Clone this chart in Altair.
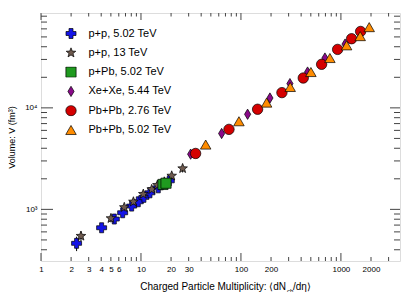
import altair as alt
import pandas as pd

FONT = "Liberation Sans"
W, H = 359, 248

STAR = ("M0,-1L0.25,-0.34L0.95,-0.31L0.4,0.13L0.59,0.81L0,0.42"
        "L-0.59,0.81L-0.4,0.13L-0.95,-0.31L-0.25,-0.34Z")
DIAMOND = "M0,-1L0.6,0L0,1L-0.6,0Z"

series = ["p+p, 5.02 TeV", "p+p, 13 TeV", "p+Pb, 5.02 TeV",
          "Xe+Xe, 5.44 TeV", "Pb+Pb, 2.76 TeV", "Pb+Pb, 5.02 TeV"]
colors = ["#1414e6", "#6e5a4e", "#1f9a1f", "#8a0a8a", "#d40000", "#ff8c00"]
shapes = ["cross", STAR, "square", DIAMOND, "circle", "triangle-up"]
sizes = [100, 110, 50, 100, 50, 55]

pp502_x = [2.27, 4.04, 5.41, 6.56, 8.07, 9.4, 10.7, 12.3, 14.9, 19.2]
pp502_v = [463, 659, 803, 926, 1077, 1188, 1313, 1456, 1630, 1911]
pp502_e = [75, 60, 70, 75, 80, 85, 90, 100, 110, 120]

pp13_x = [2.51, 5.01, 6.81, 8.4, 10.55, 12.8, 14.6, 17.1, 20.3, 26.1]
pp13_v = [546, 815, 1047, 1188, 1414, 1574, 1734, 1867, 2139, 2530]
pp13_e = [60, 70, 80, 90, 100, 110, 120, 130, 150, 220]

ppb_x = [16.6, 17.8]
ppb_v = [1760, 1810]

xexe_x = [31.4, 64.1, 116.6, 195, 309, 464, 692, 1100]
xexe_v = [3500, 5590, 8650, 12500, 17330, 22540, 30970, 42500]

pb276_x = [35.2, 75.9, 146.8, 257, 420, 641, 927, 1279, 1574]
pb276_v = [3555, 6140, 9690, 14130, 19680, 26850, 37660, 48000, 56600]

pb502_x = [44.4, 95.5, 180.6, 311, 501, 776, 1140, 1560, 1919]
pb502_v = [4350, 7380, 11270, 16060, 22540, 30970, 41300, 50900, 62400]

x_labels = [1, 2, 3, 4, 5, 6, 10, 20, 30, 100, 200, 1000, 2000]
x_major = [1, 10, 100, 1000]
x_minor = [2, 3, 4, 5, 6, 7, 8, 9, 20, 30, 40, 50, 60, 70, 80, 90,
           200, 300, 400, 500, 600, 700, 800, 900, 2000, 3000]
y_major = [1000, 10000]
y_minor = [400, 500, 600, 700, 800, 900, 2000, 3000, 4000, 5000, 6000,
           7000, 8000, 9000, 20000, 30000, 40000, 50000, 60000, 70000, 80000]

rows = []
for name, xx, vv in [(series[0], pp502_x, pp502_v), (series[1], pp13_x, pp13_v),
                     (series[2], ppb_x, ppb_v), (series[3], xexe_x, xexe_v),
                     (series[4], pb276_x, pb276_v), (series[5], pb502_x, pb502_v)]:
    for a, b in zip(xx, vv):
        rows.append({"series": name, "mult": a, "vol": b})
df = pd.DataFrame(rows)

err_rows = []
for xx, vv, ee in [(pp502_x, pp502_v, pp502_e), (pp13_x, pp13_v, pp13_e)]:
    for a, b, e in zip(xx, vv, ee):
        err_rows.append({"mult": a, "lo": b - e, "hi": b + e})
edf = pd.DataFrame(err_rows)

xs = alt.Scale(type="log", domain=[1, 3900], nice=False)
ys = alt.Scale(type="log", domain=[310, 86000], nice=False)

xaxis = alt.Axis(orient="bottom", values=x_labels, format="d", labelFontSize=8,
                 labelFont=FONT, labelColor="black",
                 ticks=False, tickSize=0, domain=False, grid=False, labelPadding=4,
                 title=None, labelFlush=False, labelOverlap=False)
yaxis = alt.Axis(orient="left", values=y_major, labelExpr="datum.value == 1000 ? '10³' : '10⁴'",
                 labelFontSize=8, labelFont=FONT, labelColor="black",
                 ticks=False, tickSize=0, domain=False, grid=False, labelPadding=4,
                 title="Volume: V (fm³)", titleFont=FONT, titleFontSize=9,
                 titleFontWeight="normal", titleColor="black", titleAngle=270,
                 titleX=-30, titleY=124, titleAlign="center", titleBaseline="middle",
                 labelFlush=False)

leg = alt.Legend(orient="none", legendX=24, legendY=15, title=None,
                 labelFontSize=11, labelFont=FONT, labelColor="black",
                 symbolSize=75, rowPadding=7.3, labelOffset=11.5, padding=0,
                 clipHeight=11,
                 symbolStrokeColor="black", symbolStrokeWidth=0.7)

errs = alt.Chart(edf).mark_rule(color="black", strokeWidth=1).encode(
    x=alt.X("mult:Q", scale=xs, axis=xaxis),
    y=alt.Y("lo:Q", scale=ys, axis=yaxis),
    y2="hi:Q",
)

pts = alt.Chart(df).mark_point(filled=True, stroke="black", strokeWidth=0.7, opacity=1).encode(
    x=alt.X("mult:Q", scale=xs, axis=xaxis),
    y=alt.Y("vol:Q", scale=ys, axis=yaxis),
    color=alt.Color("series:N", scale=alt.Scale(domain=series, range=colors), legend=leg, sort=series),
    shape=alt.Shape("series:N", scale=alt.Scale(domain=series, range=shapes), legend=leg, sort=series),
    size=alt.Size("series:N", scale=alt.Scale(domain=series, range=sizes), legend=None),
)

TC = "#444"
def xticks(vals, y0, y1):
    return alt.Chart(pd.DataFrame({"mult": vals})).mark_rule(color=TC, strokeWidth=1).encode(
        x=alt.X("mult:Q", scale=xs, axis=xaxis), y=alt.value(y0), y2=alt.value(y1))

def yticks(vals, x0, x1):
    return alt.Chart(pd.DataFrame({"vol": vals})).mark_rule(color=TC, strokeWidth=1).encode(
        y=alt.Y("vol:Q", scale=ys, axis=yaxis), x=alt.value(x0), x2=alt.value(x1))

ticks = [
    xticks(x_major, H, H - 8), xticks(x_minor, H, H - 4),
    xticks(x_major, 0, 7), xticks(x_minor, 0, 3.5),
    yticks(y_major, 0, 12), yticks(y_minor, 0, 6),
    yticks(y_major, W, W - 10), yticks(y_minor, W, W - 6),
]

t1 = alt.Chart(pd.DataFrame({"t": ["Charged Particle Multiplicity: ⟨dN"]})).mark_text(
    align="right", baseline="alphabetic", fontSize=10, font=FONT, color="black").encode(
    x=alt.value(245), y=alt.value(277), text="t:N")
t2 = alt.Chart(pd.DataFrame({"t": ["ch"]})).mark_text(
    align="left", baseline="alphabetic", fontSize=6, font=FONT, color="black").encode(
    x=alt.value(246), y=alt.value(279.5), text="t:N")
t3 = alt.Chart(pd.DataFrame({"t": ["/dη⟩"]})).mark_text(
    align="left", baseline="alphabetic", fontSize=10, font=FONT, color="black").encode(
    x=alt.value(252), y=alt.value(277), text="t:N")

chart = alt.layer(errs, pts, *ticks, t1, t2, t3).properties(
    width=W, height=H,
    autosize=alt.AutoSizeParams(type="none"),
    padding={"left": 33, "top": 5, "right": 7, "bottom": 31},
).configure_view(stroke="#333", strokeWidth=1).configure(background="white")

chart.save("out.html", embed_options={"renderer": "svg", "actions": False})
